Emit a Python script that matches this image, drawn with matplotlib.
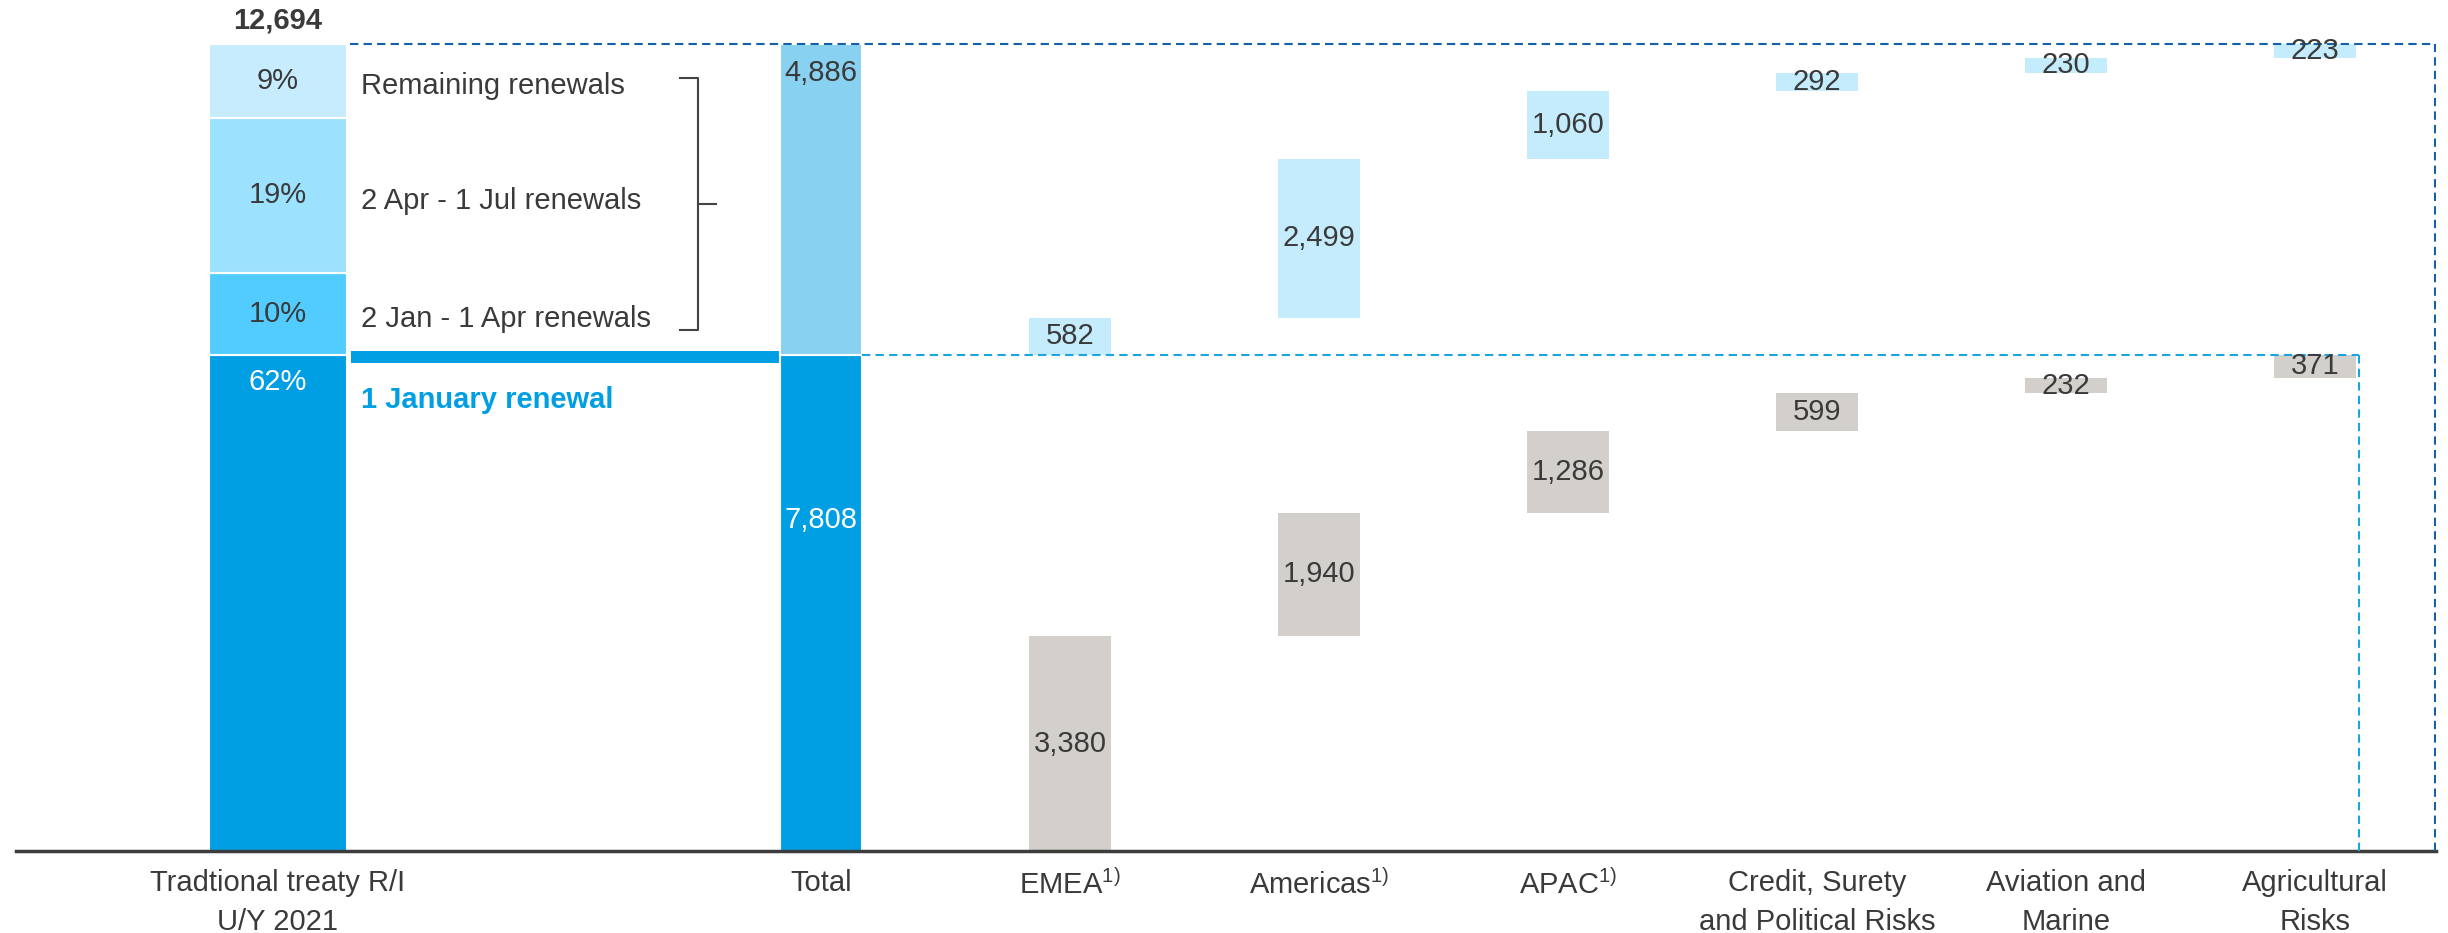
import matplotlib
matplotlib.use("Agg")
import matplotlib.pyplot as plt

plt.rcParams['font.family'] = ['Liberation Sans', 'DejaVu Sans']
plt.rcParams['mathtext.fontset'] = 'custom'
plt.rcParams['mathtext.rm'] = 'Liberation Sans'
plt.rcParams['mathtext.it'] = 'Liberation Sans:italic'
plt.rcParams['mathtext.bf'] = 'Liberation Sans:bold'

# ---------------- data ----------------
total = 12694
jan_value = 7808
later_value = 4886
share_labels = ["62%", "10%", "19%", "9%"]
share_pct = [62, 10, 19, 9]
share_names = ["1 January renewal", "2 Jan - 1 Apr renewals",
               "2 Apr - 1 Jul renewals", "Remaining renewals"]

left_label = "Tradtional treaty R/I\nU/Y 2021"
categories = ["Total", "EMEA$^{1)}$", "Americas$^{1)}$", "APAC$^{1)}$",
              "Credit, Surety\nand Political Risks", "Aviation and\nMarine",
              "Agricultural\nRisks"]
jan_by_seg = [3380, 1940, 1286, 599, 232, 371]
later_by_seg = [582, 2499, 1060, 292, 230, 223]

# ---------------- style ----------------
C_JAN = "#009FE3"
C_SHARES = ["#009FE3", "#52CCFF", "#9CE1FD", "#C6ECFD"]
C_TOTAL_LATER = "#88D1F1"
C_LIGHT = "#C4ECFC"
C_GREY = "#D3D0CB"
C_TEXT = "#3A3A3A"
C_DASH_TOP = "#1560A8"
C_DASH_JAN = "#1AA5E0"
FS = 21

W, H, DPI = 2448, 933, 100
fig = plt.figure(figsize=(W / DPI, H / DPI), dpi=DPI)
base_px = 851
top_px = 44
ax = fig.add_axes([16 / W, (H - base_px) / H, (2436 - 16) / W, base_px / H])
ax.set_ylim(0, total * base_px / (base_px - top_px))
xl, xr = -3.233, 6.486
ax.set_xlim(xl, xr)

bw = 0.33
x_left = -2.181
lw_left = 0.555
left_right = x_left + lw_left / 2

# left stacked bar
seg_h = [jan_value] + [later_value * p / sum(share_pct[1:]) for p in share_pct[1:]]
bottom = 0
centers = []
for h, c in zip(seg_h, C_SHARES):
    ax.bar(x_left, h, bottom=bottom, width=lw_left, color=c,
           edgecolor="white", linewidth=1.5, zorder=2)
    centers.append(bottom + h / 2)
    bottom += h

for i, (lab, cy) in enumerate(zip(share_labels, centers)):
    if i == 0:
        ax.annotate(lab, xy=(x_left, jan_value), xytext=(0, -20),
                    textcoords="offset points", ha="center", va="center",
                    fontsize=FS, color="white", zorder=5)
    else:
        ax.text(x_left, cy, lab, ha="center", va="center", fontsize=FS,
                color=C_TEXT, zorder=5)

ax.annotate(f"{total:,}", xy=(x_left, total), xytext=(0, 17),
            textcoords="offset points", ha="center", va="center",
            fontsize=FS, fontweight="bold", color=C_TEXT, annotation_clip=False)

# names
name_x = -1.847
for name, cy in zip(share_names[1:], centers[1:]):
    ax.annotate(name, xy=(name_x, cy), xytext=(0, -4), textcoords="offset points",
                ha="left", va="center", fontsize=FS, color=C_TEXT)
ax.annotate(share_names[0], xy=(name_x, jan_value), xytext=(0, -33),
            textcoords="offset points", ha="left", va="center", fontsize=FS,
            fontweight="bold", color=C_JAN)

# blue band "1 January renewal"
ax.plot([left_right + 0.015, -bw / 2 - 0.004], [jan_value - 45, jan_value - 45],
        color=C_JAN, linewidth=8.6, solid_capstyle="butt", zorder=2)

# bracket
b_top = centers[3] + 40
b_bot = centers[1] - 250
b_mid = (b_top + b_bot) / 2
bx0, bx1, bx2 = -0.566, -0.494, -0.422
ax.plot([bx0, bx1, bx1, bx0], [b_top, b_top, b_bot, b_bot], color="#444444",
        linewidth=1.5, zorder=3)
ax.plot([bx1, bx2], [b_mid, b_mid], color="#444444", linewidth=1.5, zorder=3)

# total bar
ax.bar(0, jan_value, width=bw, color=C_JAN, edgecolor="white", linewidth=1.5, zorder=2)
ax.bar(0, later_value, bottom=jan_value, width=bw, color=C_TOTAL_LATER,
       edgecolor="white", linewidth=1.5, zorder=2)
ax.annotate(f"{later_value:,}", xy=(0, total), xytext=(0, -21),
            textcoords="offset points", ha="center", va="center",
            fontsize=FS, color=C_TEXT, zorder=5)
ax.text(0, jan_value * 2 / 3, f"{jan_value:,}", ha="center", va="center",
        fontsize=FS, color="white", zorder=5)

# waterfall
cum_j = 0
cum_l = jan_value
for i, (vj, vl) in enumerate(zip(jan_by_seg, later_by_seg)):
    x = i + 1
    ax.bar(x, vj, bottom=cum_j, width=bw, color=C_GREY, zorder=2)
    ax.text(x, cum_j + vj / 2, f"{vj:,}", ha="center", va="center",
            fontsize=FS, color=C_TEXT, zorder=5)
    ax.bar(x, vl, bottom=cum_l, width=bw, color=C_LIGHT, zorder=2)
    ax.text(x, cum_l + vl / 2, f"{vl:,}", ha="center", va="center",
            fontsize=FS, color=C_TEXT, zorder=5)
    cum_j += vj
    cum_l += vl

# dashed guide lines
dash = (0, (4, 2.5))
last_x = len(categories) - 1 + bw / 2 + 0.01
ax.plot([left_right + 0.01, xr - 0.003], [total, total], color=C_DASH_TOP,
        linewidth=1.5, linestyle=dash, zorder=3)
ax.plot([xr - 0.003, xr - 0.003], [0, total], color=C_DASH_TOP,
        linewidth=1.5, linestyle=dash, zorder=3)
ax.plot([bw / 2, last_x], [jan_value, jan_value], color=C_DASH_JAN,
        linewidth=1.5, linestyle=dash, zorder=3)
ax.plot([last_x, last_x], [0, jan_value], color=C_DASH_JAN,
        linewidth=1.5, linestyle=dash, zorder=3)

# axes
ax.set_xticks([x_left] + list(range(len(categories))))
ax.set_xticklabels([left_label] + categories, linespacing=1.5)
ax.tick_params(axis="x", length=0, pad=13, labelsize=21, labelcolor=C_TEXT)
ax.set_yticks([])
for s in ["top", "left", "right"]:
    ax.spines[s].set_visible(False)
ax.spines["bottom"].set_color("#3C3C3C")
ax.spines["bottom"].set_linewidth(2.5)
ax.patch.set_alpha(0)

fig.savefig("out.png", dpi=DPI)
